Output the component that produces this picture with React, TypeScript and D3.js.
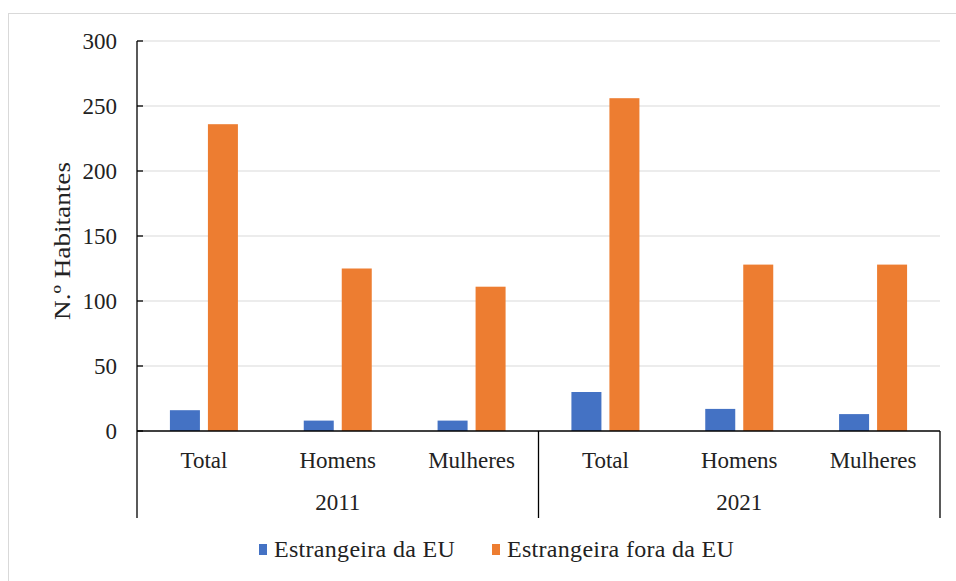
import React from "react";
import * as d3 from "d3";

const years = ["2011", "2021"];
const categories = ["Total", "Homens", "Mulheres"];
const seriesNames = ["Estrangeira da EU", "Estrangeira fora da EU"];
const euValues = [16, 8, 8, 30, 17, 13];
const nonEuValues = [236, 125, 111, 256, 128, 128];
const yTicks = [0, 50, 100, 150, 200, 250, 300];
const colors = ["#4472C4", "#ED7D31"];

const W = 956, H = 581;
const left = 137, right = 940, top = 41, bottom = 431, catBottom = 518;
const textStyle: React.CSSProperties = { fontFamily: '"Liberation Serif", "Times New Roman", "DejaVu Serif", serif', fontSize: 23 };
const legendStyle: React.CSSProperties = { ...textStyle, fontSize: 24, letterSpacing: 0.3 };

export default function App() {
  const y = d3.scaleLinear().domain([0, 300]).range([bottom, top]);
  const keys = years.flatMap((yr) => categories.map((c) => `${yr}-${c}`));
  const x = d3.scaleBand().domain(keys).range([left, right]).paddingInner(0).paddingOuter(0);
  const bw = 30, gap = 8;
  const series = [euValues, nonEuValues];
  const groupW = (right - left) / years.length;
  return (
    <svg width={W} height={H} style={{ position: "absolute", left: 0, top: 0, background: "#fff" }}>
      <rect x={8.5} y={13.5} width={W + 10} height={H + 10} fill="#fff" stroke="#d9d9d9" />
      {yTicks.map((t) => (
        <g key={t}>
          {t > 0 && <line x1={left} x2={right} y1={y(t)} y2={y(t)} stroke="#d9d9d9" strokeWidth={1.2} />}
          <line x1={left} x2={left + 6} y1={y(t)} y2={y(t)} stroke="#000" strokeWidth={1.3} />
          <text x={117} y={y(t)} dy="0.35em" textAnchor="end" style={textStyle} fill="#222">{t}</text>
        </g>
      ))}
      {keys.map((k, i) => {
        const cx = (x(k) as number) + x.bandwidth() / 2;
        return series.map((vals, s) => {
          const bx = s === 0 ? cx - gap / 2 - bw : cx + gap / 2;
          return <rect key={k + s} x={bx} y={y(vals[i])} width={bw} height={bottom - y(vals[i])} fill={colors[s]} />;
        });
      })}
      <line x1={left} x2={left} y1={top} y2={catBottom} stroke="#000" strokeWidth={1.3} />
      <line x1={left} x2={right} y1={bottom} y2={bottom} stroke="#000" strokeWidth={1.3} />
      {years.map((yr, g) => (
        <g key={yr}>
          <line x1={left + groupW * (g + 1)} x2={left + groupW * (g + 1)} y1={bottom} y2={catBottom} stroke="#000" strokeWidth={1.3} />
          <text x={left + groupW * (g + 0.5)} y={510} textAnchor="middle" style={textStyle} fill="#222">{yr}</text>
        </g>
      ))}
      {keys.map((k, i) => (
        <text key={k} x={(x(k) as number) + x.bandwidth() / 2} y={468} textAnchor="middle" style={textStyle} fill="#222">
          {categories[i % categories.length]}
        </text>
      ))}
      <text transform={`translate(62,241) rotate(-90)`} dy="0.35em" textAnchor="middle" style={textStyle} fill="#222" textLength={158} lengthAdjust="spacingAndGlyphs">N.º Habitantes</text>
      {seriesNames.map((n, i) => {
        const lx = [259, 492][i];
        return (
          <g key={n}>
            <rect x={lx} y={544} width={8} height={11} fill={colors[i]} />
            <text x={lx + 15} y={557} style={legendStyle} fill="#222">{n}</text>
          </g>
        );
      })}
    </svg>
  );
}
